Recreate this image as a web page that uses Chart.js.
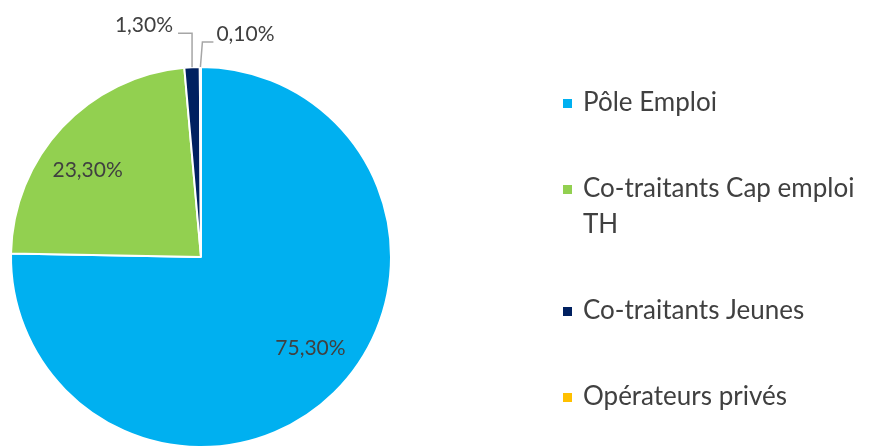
<!DOCTYPE html>
<html>
<head>
<meta charset="utf-8">
<script src="https://cdn.jsdelivr.net/npm/chart.js@4.4.1/dist/chart.umd.min.js"></script>
<style>
  html, body { margin: 0; padding: 0; background: #fff; overflow: hidden; height: 446px; }
  #wrap { position: relative; width: 871px; height: 452px; }
</style>
</head>
<body>
<div id="wrap"><canvas id="pieChart"></canvas></div>
<script>
// Chart data
const categories = ['Pôle Emploi', 'Co-traitants Cap emploi TH', 'Co-traitants Jeunes', 'Opérateurs privés'];
const legendLines = [['Pôle Emploi'], ['Co-traitants Cap emploi', 'TH'], ['Co-traitants Jeunes'], ['Opérateurs privés']];
const shares = [75.3, 23.3, 1.3, 0.1];
const valueLabels = ['75,30%', '23,30%', '1,30%', '0,10%'];
const sliceColors = ['#00B0F0', '#92D050', '#002060', '#FFC000'];

const textColor = '#404040';
const fontFamily = 'Lato, "Open Sans", sans-serif';

// labels: inside for large slices, outside with leader line for the tiny ones
const sliceLabels = {
    id: 'sliceLabels',
    afterDatasetsDraw(chart) {
        const ctx = chart.ctx;
        const arcs = chart.getDatasetMeta(0).data;
        ctx.save();
        ctx.font = '21px ' + fontFamily;
        ctx.fillStyle = textColor;
        arcs.forEach((arc, i) => {
            const p = arc.getProps(['x', 'y', 'startAngle', 'endAngle', 'outerRadius'], true);
            const mid = (p.startAngle + p.endAngle) / 2;
            if (shares[i] > 5) {
                const r = p.outerRadius * 0.75;
                const a = mid - 0.1; // excel nudges these a bit
                ctx.textAlign = 'center';
                ctx.textBaseline = 'middle';
                ctx.fillText(valueLabels[i], p.x + Math.cos(a) * r, p.y + Math.sin(a) * r);
            } else {
                // leader line going up then sideways
                const sx = p.x + Math.cos(mid) * p.outerRadius;
                const sy = p.y + Math.sin(mid) * p.outerRadius;
                const left = i === 2;
                const rise = left ? 34 : 25;
                const run = left ? 14 : 11;
                const bx = sx + (left ? 0 : 2);
                const by = sy - rise;
                const ex = left ? bx - run : bx + run;
                ctx.strokeStyle = '#a6a6a6';
                ctx.lineWidth = 1.5;
                ctx.beginPath();
                ctx.moveTo(sx, sy);
                ctx.lineTo(bx, by);
                ctx.lineTo(ex, by);
                ctx.stroke();
                ctx.textBaseline = 'middle';
                ctx.textAlign = left ? 'right' : 'left';
                ctx.fillText(valueLabels[i], left ? ex - 5 : ex + 3, by - 8);
            }
        });
        ctx.restore();
    }
};

// legend drawn on the right side
const sideLegend = {
    id: 'sideLegend',
    afterDraw(chart) {
        const ctx = chart.ctx;
        const colors = chart.data.datasets[0].backgroundColor;
        const lineH = 36;
        const gap = 50;
        let y = 103;
        ctx.save();
        ctx.font = '26px ' + fontFamily;
        ctx.textBaseline = 'middle';
        ctx.textAlign = 'left';
        legendLines.forEach((lines, i) => {
            ctx.fillStyle = colors[i];
            ctx.fillRect(563, y - 4, 9, 9);
            ctx.fillStyle = textColor;
            lines.forEach((t, k) => ctx.fillText(t, 583, y + k * lineH));
            y += lines.length * lineH + gap;
        });
        ctx.restore();
    }
};

const ctx = document.getElementById('pieChart').getContext('2d');
new Chart(ctx, {
    type: 'pie',
    data: {
        labels: categories,
        datasets: [{
            data: shares,
            backgroundColor: sliceColors,
            borderColor: '#ffffff',
            borderWidth: 2
        }]
    },
    options: {
        responsive: true,
        maintainAspectRatio: false,
        animation: false,
        layout: { padding: { left: 10, top: 66, right: 479, bottom: 4 } },
        plugins: {
            legend: { display: false },
            tooltip: { enabled: false }
        }
    },
    plugins: [sliceLabels, sideLegend]
});
</script>
</body>
</html>
